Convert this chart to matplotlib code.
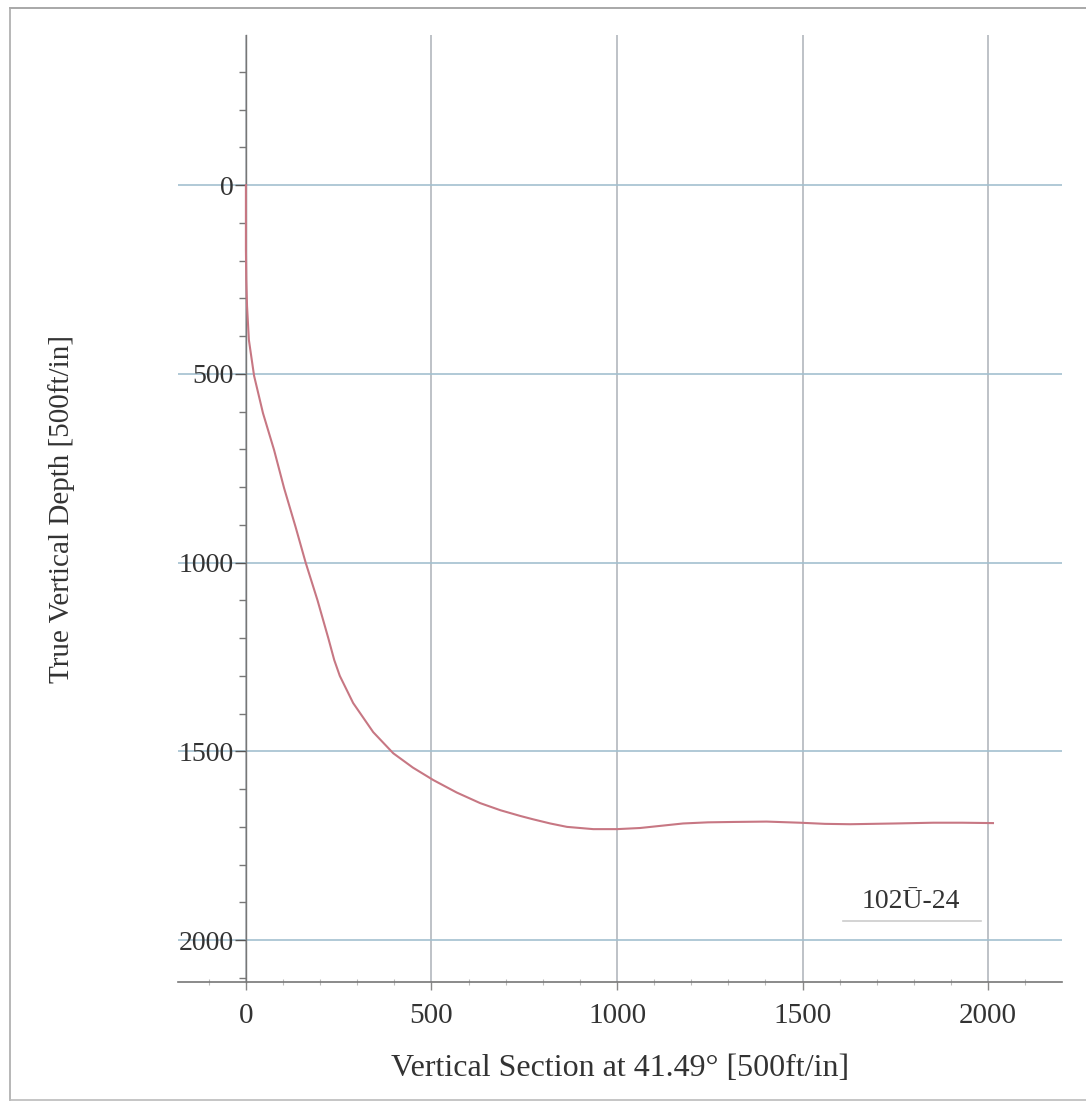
import matplotlib
matplotlib.use("Agg")
import matplotlib.pyplot as plt
from matplotlib.lines import Line2D
from matplotlib.ticker import MultipleLocator

# well path
vs = [0, 0, 1, 3, 8, 22, 46, 76, 103, 134, 161, 193, 222, 238, 253, 289,
      343, 397, 450, 505, 568, 631, 686, 739, 774, 820, 865, 936, 1000, 1062,
      1120, 1178, 1245, 1312, 1403, 1493, 1560, 1628, 1750, 1852, 1930, 2013]
tvd = [0, 170, 250, 320, 410, 505, 604, 702, 803, 906, 1000, 1100, 1200, 1258,
       1300, 1372, 1449, 1505, 1543, 1576, 1609, 1637, 1656, 1671, 1680, 1691,
       1700, 1706, 1706, 1703, 1697, 1691, 1688, 1687, 1686, 1689, 1692, 1693,
       1691, 1689, 1689, 1690]
x_ticks = [0, 500, 1000, 1500, 2000]
y_ticks = [0, 500, 1000, 1500, 2000]
well_name = "102\u016a-24"

plt.rcParams['font.family'] = ['Liberation Serif', 'DejaVu Serif']

fig = plt.figure(figsize=(10.86, 11.06), dpi=100)
ax = fig.add_axes([0.1639, 0.1121, 0.814, 0.856])

ax.plot(vs, tvd, color='#c77783', lw=1.5, zorder=3)

ax.set_xlim(-183, 2199)
ax.set_ylim(2111, -397)

ax.spines['top'].set_visible(False)
ax.spines['right'].set_visible(False)
ax.spines['left'].set_position(('data', 0))
ax.spines['left'].set_color('#777777')
ax.spines['bottom'].set_color('#777777')
ax.spines['left'].set_linewidth(1.0)
ax.spines['bottom'].set_linewidth(1.2)

ax.set_xticks(x_ticks)
ax.set_yticks(y_ticks)
ax.yaxis.set_minor_locator(MultipleLocator(100))
ax.xaxis.set_minor_locator(MultipleLocator(100))
ax.tick_params(axis='y', which='major', direction='out', length=8, width=1,
               color='#555555', labelsize=20, labelcolor='#333333', pad=1)
ax.tick_params(axis='y', which='minor', direction='out', length=5, width=1,
               color='#777777')
ax.tick_params(axis='x', which='major', direction='out', length=6, width=1,
               color='#888888', labelsize=21, labelcolor='#333333', pad=9)
ax.tick_params(axis='x', which='minor', direction='inout', length=4, width=0.8,
               color='#bbbbbb')

ax.grid(True, which='major', axis='y', color='#a3c0cf', lw=1.2)
ax.grid(True, which='major', axis='x', color='#b3b8be', lw=1.2)
ax.set_axisbelow(True)

ax.set_xlabel("Vertical Section at 41.49\u00b0 [500ft/in]", fontsize=23,
              color='#333333', labelpad=18)
ax.set_ylabel("True Vertical Depth [500ft/in]", fontsize=21, color='#333333')
ax.yaxis.set_label_coords(-0.117, 0.5)

ax.text(1792, 1899, well_name, fontsize=20, color='#333333', ha='center',
        va='center')
ax.plot([1610, 1980], [1950, 1950], color='#cccccc', lw=1.2)

# scanner page border
fig.add_artist(Line2D([0.009, 1.0], [0.993, 0.993], color='#999999', lw=1.2))
fig.add_artist(Line2D([0.009, 0.009], [0.005, 0.993], color='#aaaaaa', lw=1.2))
fig.add_artist(Line2D([0.009, 1.0], [0.005, 0.005], color='#bbbbbb', lw=1.2))

fig.savefig("out.png", dpi=100, facecolor='white')
